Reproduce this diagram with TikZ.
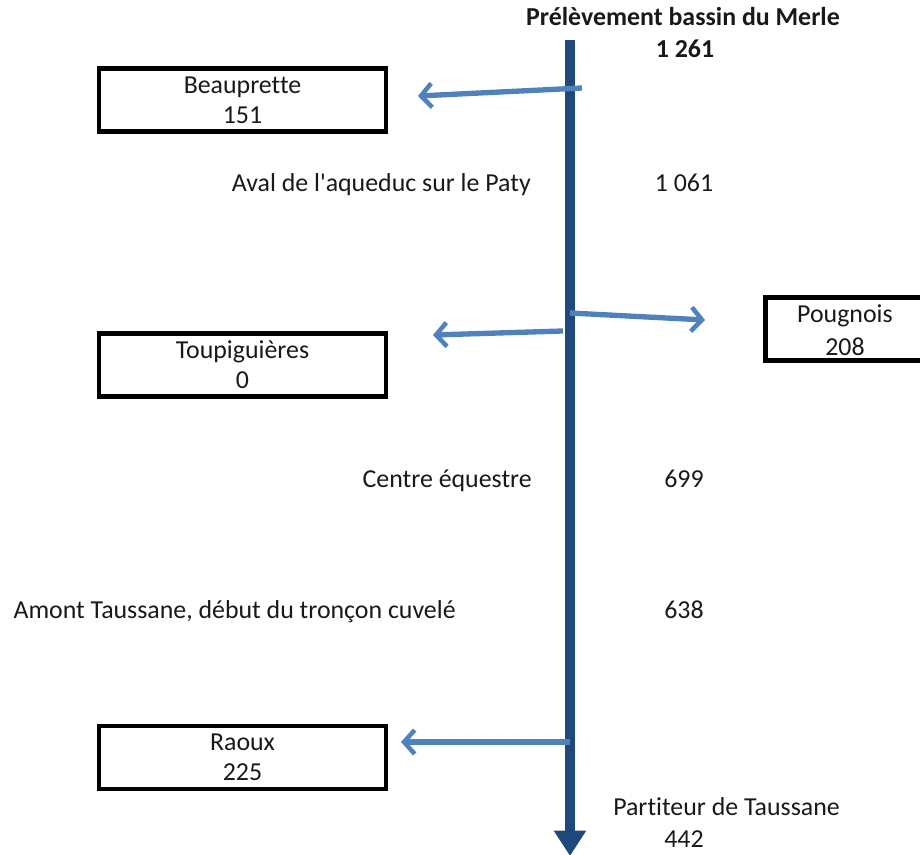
\documentclass[tikz,border=0pt]{standalone}
\usepackage{fontspec}
\setmainfont{Carlito}[Ligatures=NoCommon]
\usetikzlibrary{arrows.meta}
\definecolor{darkblue}{RGB}{31,73,125}
\definecolor{lightblue}{RGB}{79,129,189}
\begin{document}
\begin{tikzpicture}[x=0.75pt,y=-0.75pt,
  every node/.style={font=\fontsize{19.4}{22.5}\selectfont, inner sep=0pt, text=black!90},
  box/.style={draw=black, line width=3.4pt, minimum width=215pt, minimum height=47pt, align=center},
  branch/.style={draw=lightblue, line width=4pt, -{Straight Barb[length=8pt,width=18pt,line width=3.4pt]}},
  main/.style={draw=darkblue, line width=7.5pt, -{Triangle[length=19pt,width=23pt]}},
  lbl/.style={anchor=base east},
  num/.style={anchor=base}]
\useasboundingbox (0,0) rectangle (920,855);
\clip (0,0) rectangle (920,855);
% main line
\coordinate (top) at (570,40);
\coordinate (bot) at (570,856);
\draw[main] (top) -- (bot);
% title
\node[font=\fontsize{19.4}{22.5}\selectfont\bfseries, anchor=base] (title) at (683,26) {Prélèvement bassin du Merle};
\node[font=\fontsize{19.4}{22.5}\selectfont\bfseries, anchor=base] (q0) at (685,58) {1 261};
% boxes
\node[box] (beau) at (242.5,100) {Beauprette\\151};
\node[box] (toup) at (242.5,365) {Toupiguières\\0};
\node[box] (raoux) at (242.5,757.5) {Raoux\\225};
\node[box, minimum width=160pt] (poug) at (872,329) {};
\node[anchor=base] (pougt) at (845,322) {Pougnois};
\node[anchor=base] (pougn) at (845,355) {208};
% branch arrows
\coordinate (b1s) at (582,88);
\coordinate (b1e) at (418,96);
\draw[branch] (b1s) -- (b1e);
\coordinate (b2s) at (570,313);
\coordinate (b2e) at (705,320);
\draw[branch] (b2s) -- (b2e);
\coordinate (b3s) at (563,331);
\coordinate (b3e) at (433,335);
\draw[branch] (b3s) -- (b3e);
\coordinate (b4s) at (570,742);
\coordinate (b4e) at (401,742);
\draw[branch] (b4s) -- (b4e);
% labels
\node[lbl] (l1) at (531,192) {Aval de l\textquotesingle aqueduc sur le Paty};
\node[num] (n1) at (684,192) {1 061};
\node[lbl] (l2) at (532,487) {Centre équestre};
\node[num] (n2) at (684,487) {699};
\node[lbl] (l3) at (456,618) {Amont Taussane, début du tronçon cuvelé};
\node[num] (n3) at (684,618) {638};
\node[anchor=base west] (l4) at (613,815) {Partiteur de Taussane};
\node[num] (n4) at (684,847) {442};
\end{tikzpicture}
\end{document}
